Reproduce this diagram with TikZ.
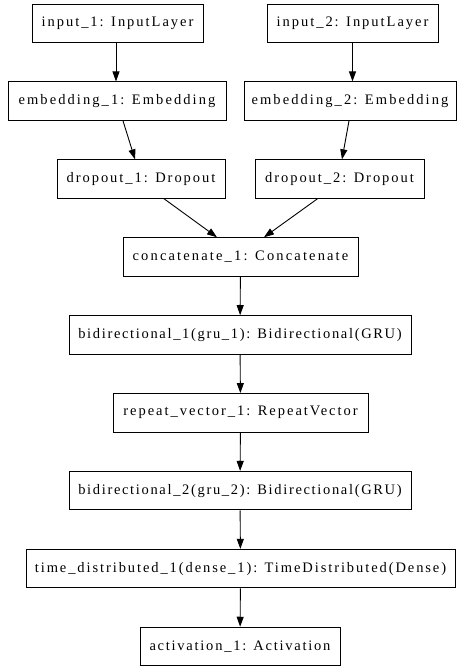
\documentclass[tikz,border=0pt]{standalone}
\usepackage{fontspec}
\setmainfont{Liberation Serif}
\newfontfamily\graphfont{Liberation Serif}
\usetikzlibrary{arrows.meta,calc}
\tikzset{
  layer/.style={draw=black, line width=0.9pt, rectangle, minimum height=38.5pt, inner sep=0pt,
    font=\fontsize{14.5}{16}\selectfont\graphfont\addfontfeature{LetterSpace=#1}},
  layer/.default=13.5,
  edge/.style={line width=0.9pt, -{Triangle[length=10pt,width=7pt]}}
}
\begin{document}
\begin{tikzpicture}[x=1pt,y=-1pt]
\useasboundingbox (0,0) rectangle (457,666);
\node[layer=13.6, minimum width=171pt] (in1) at (117.5,23.25) {input\_1: InputLayer};
\node[layer=13.6, minimum width=171pt] (in2) at (352.5,23.25) {input\_2: InputLayer};
\node[layer=14.3, minimum width=218pt] (em1) at (117,101.15) {embedding\_1: Embedding};
\node[layer=14.3, minimum width=212pt] (em2) at (350,101.15) {embedding\_2: Embedding};
\node[layer=13.5, minimum width=168pt] (do1) at (141,179.05) {dropout\_1: Dropout};
\node[layer=13.5, minimum width=169pt] (do2) at (339.5,179.05) {dropout\_2: Dropout};
\node[layer=14.8, minimum width=235pt] (cat) at (240.5,256.95) {concatenate\_1: Concatenate};
\node[layer=11.5, minimum width=342pt] (bi1) at (240,334.85) {bidirectional\_1(gru\_1): Bidirectional(GRU)};
\node[layer=13.6, minimum width=255pt] (rep) at (240.5,412.75) {repeat\_vector\_1: RepeatVector};
\node[layer=11.5, minimum width=342pt] (bi2) at (240,490.65) {bidirectional\_2(gru\_2): Bidirectional(GRU)};
\node[layer=13.2, minimum width=429pt] (td) at (240.5,568.55) {time\_distributed\_1(dense\_1): TimeDistributed(Dense)};
\node[layer=12.1, minimum width=200pt] (act) at (240,646.45) {activation\_1: Activation};

\draw[edge] ($(in1.south)+(-1.5,0)$) -- ($(em1.north)+(-1,0)$);
\draw[edge] ($(in2.south)+(0,0)$) -- ($(em2.north)+(2.5,0)$);
\draw[edge] ($(em1.south)+(6,0)$) -- ($(do1.north)+(-6,0)$);
\draw[edge] ($(em2.south)+(-1,0)$) -- ($(do2.north)+(2.5,0)$);
\draw[edge] ($(do1.south)+(23,0)$) -- ($(cat.north)+(-23.5,0)$);
\draw[edge] ($(do2.south)+(-22,0)$) -- ($(cat.north)+(23.5,0)$);
\draw[edge] (cat) -- (bi1);
\draw[edge] (bi1) -- (rep);
\draw[edge] (rep) -- (bi2);
\draw[edge] (bi2) -- (td);
\draw[edge] (td) -- (act);
\end{tikzpicture}
\end{document}
